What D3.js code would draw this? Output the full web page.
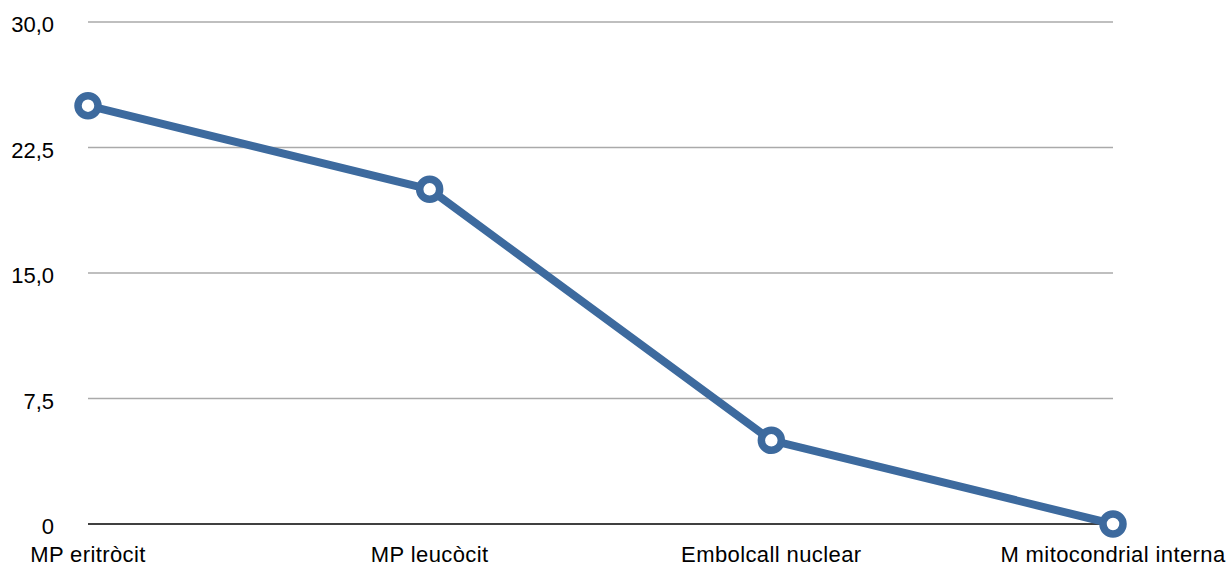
<!DOCTYPE html>
<html>
<head>
<meta charset="utf-8">
<script src="https://cdn.jsdelivr.net/npm/d3@7"></script>
<style>
  body { margin: 0; background: #fff; }
  text { font-family: "Liberation Sans", Arial, sans-serif; }
</style>
</head>
<body>
<div id="chart"></div>
<script>
"use strict";

// membrane types and values
const categories = ["MP eritròcit", "MP leucòcit", "Embolcall nuclear", "M mitocondrial interna"];
const values = [25, 20, 5, 0];
const yTicks = [0, 7.5, 15, 22.5, 30];
const yTickLabels = ["0", "7,5", "15,0", "22,5", "30,0"];

const svgWidth = 1231, svgHeight = 566;
const margin = { top: 22, right: 118, bottom: 42, left: 88 };

const svg = d3.select("#chart")
  .append("svg")
  .attr("width", svgWidth)
  .attr("height", svgHeight);

const xScale = d3.scalePoint().domain(categories).range([margin.left, svgWidth - margin.right]);
const yScale = d3.scaleLinear().domain([0, 30]).range([svgHeight - margin.bottom, margin.top]);

// grid lines
svg.append("g")
  .selectAll("line")
  .data(yTicks.filter(d => d > 0))
  .enter()
  .append("line")
  .attr("x1", margin.left)
  .attr("x2", svgWidth - margin.right)
  .attr("y1", d => yScale(d))
  .attr("y2", d => yScale(d))
  .attr("stroke", "#aaaaaa")
  .attr("stroke-width", 1.5);

// baseline
svg.append("line")
  .attr("x1", margin.left)
  .attr("x2", svgWidth - margin.right)
  .attr("y1", yScale(0))
  .attr("y2", yScale(0))
  .attr("stroke", "#000")
  .attr("stroke-width", 1.5);

// y labels
svg.append("g")
  .selectAll("text")
  .data(yTicks)
  .enter()
  .append("text")
  .attr("x", 54)
  .attr("y", d => yScale(d) + 10)
  .attr("text-anchor", "end")
  .attr("font-size", "22px")
  .attr("fill", "#000")
  .text((d, i) => yTickLabels[i]);

// x labels
svg.append("g")
  .selectAll("text")
  .data(categories)
  .enter()
  .append("text")
  .attr("x", d => xScale(d))
  .attr("y", svgHeight - 4)
  .attr("text-anchor", "middle")
  .attr("font-size", "22px")
  .attr("letter-spacing", "0.4px")
  .attr("fill", "#000")
  .text(d => d);

const line = d3.line()
  .x((d, i) => xScale(categories[i]))
  .y(d => yScale(d));

svg.append("path")
  .datum(values)
  .attr("d", line)
  .attr("fill", "none")
  .attr("stroke", "#3d6a9e")
  .attr("stroke-width", 8)
  .attr("stroke-linejoin", "round");

svg.selectAll("circle")
  .data(values)
  .enter()
  .append("circle")
  .attr("cx", (d, i) => xScale(categories[i]))
  .attr("cy", d => yScale(d))
  .attr("r", 10)
  .attr("fill", "#fff")
  .attr("stroke", "#3d6a9e")
  .attr("stroke-width", 7.5);
</script>
</body>
</html>
